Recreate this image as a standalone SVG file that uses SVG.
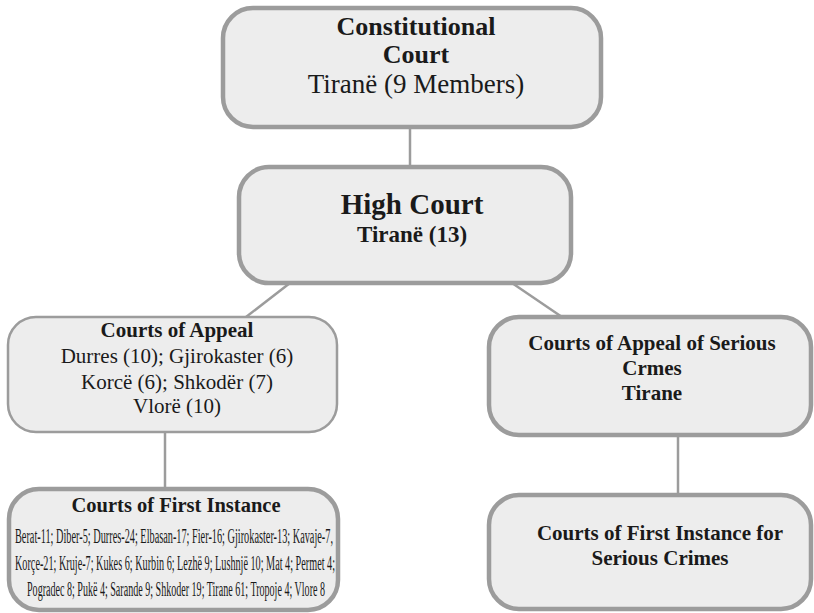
<svg xmlns="http://www.w3.org/2000/svg" width="814" height="613" viewBox="0 0 814 613">
<style>
.box{fill:#ededed;stroke:#9c9c9c;stroke-width:4.5}
.thin{stroke-width:2.5}
.conn line{stroke:#9c9c9c;stroke-width:2.5}
text{font-family:'Liberation Serif','Tinos','DejaVu Serif','Times New Roman',serif;fill:#1a1a1a;text-anchor:middle}
.b{font-weight:bold}
</style>
<rect width="814" height="613" fill="#ffffff"/>
<g id="connectors" class="conn">
<line x1="410" y1="127" x2="410" y2="167"/>
<line x1="290" y1="283" x2="246" y2="317"/>
<line x1="512" y1="283" x2="562" y2="317"/>
<line x1="165" y1="432" x2="165" y2="489"/>
<line x1="678" y1="435" x2="678" y2="495"/>
</g>
<g id="constitutional">
<rect class="box" x="223" y="8" width="378" height="119" rx="30"/>
<text class="b" x="416" y="35" font-size="26">Constitutional</text>
<text class="b" x="416" y="63" font-size="26">Court</text>
<text x="416" y="93" font-size="27">Tiranë (9 Members)</text>
</g>
<g id="high">
<rect class="box" x="239" y="167" width="332" height="116" rx="30"/>
<text class="b" x="412" y="214" font-size="29">High Court</text>
<text class="b" x="412" y="242" font-size="23">Tiranë (13)</text>
</g>
<g id="appeal">
<rect class="box thin" x="8" y="317" width="329" height="115" rx="28"/>
<text class="b" x="177" y="337" font-size="21">Courts of Appeal</text>
<text x="177" y="363" font-size="21">Durres (10); Gjirokaster (6)</text>
<text x="177" y="389" font-size="21">Korcë (6); Shkodër (7)</text>
<text x="177" y="413" font-size="21">Vlorë (10)</text>
</g>
<g id="appeal-serious">
<rect class="box" x="489" y="317" width="322" height="118" rx="30"/>
<text class="b" x="652" y="350" font-size="21">Courts of Appeal of Serious</text>
<text class="b" x="652" y="375" font-size="21">Crmes</text>
<text class="b" x="652" y="400" font-size="21">Tirane</text>
</g>
<g id="first-instance">
<rect class="box" x="9" y="489" width="329" height="121" rx="30"/>
<text class="b" x="176" y="512" font-size="20.5">Courts of First Instance</text>
<text x="174" y="543" font-size="20" textLength="318" lengthAdjust="spacingAndGlyphs">Berat-11; Diber-5; Durres-24; Elbasan-17; Fier-16; Gjirokaster-13; Kavaje-7,</text>
<text x="175" y="570" font-size="20" textLength="320" lengthAdjust="spacingAndGlyphs">Korçe-21; Kruje-7; Kukes 6; Kurbin 6; Lezhë 9; Lushnjë 10; Mat 4;  Permet 4;</text>
<text x="176" y="596" font-size="20" textLength="298" lengthAdjust="spacingAndGlyphs">Pogradec 8; Pukë 4; Sarande 9; Shkoder 19; Tirane 61; Tropoje 4; Vlore 8</text>
</g>
<g id="first-instance-serious">
<rect class="box" x="489" y="495" width="322" height="114" rx="30"/>
<text class="b" x="660" y="540" font-size="21">Courts of First Instance for</text>
<text class="b" x="660" y="565" font-size="21">Serious Crimes</text>
</g>
</svg>
